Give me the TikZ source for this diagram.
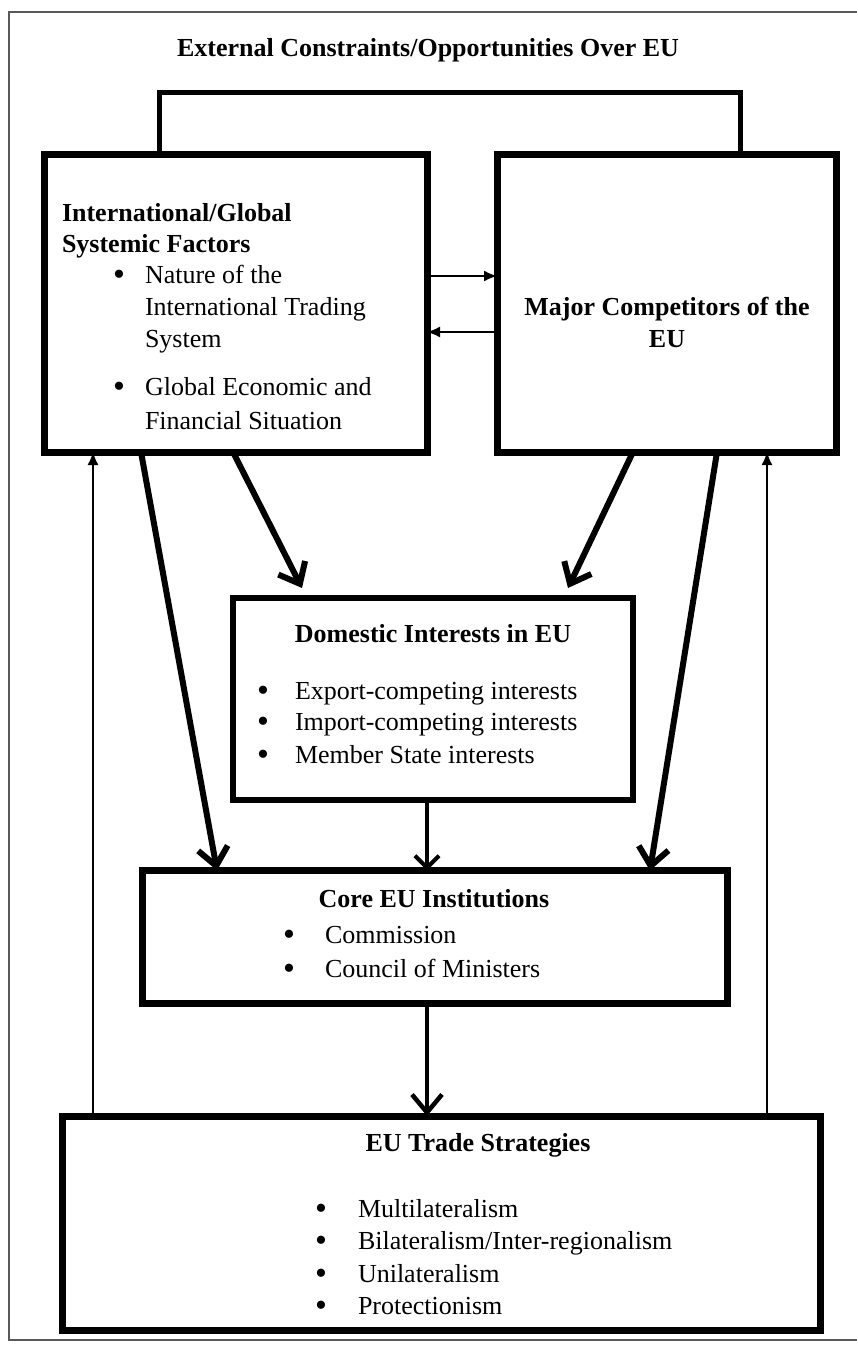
\documentclass[tikz,border=0pt]{standalone}
\usepackage{fontspec}
\setmainfont{Liberation Serif}
\usetikzlibrary{arrows.meta}
\begin{document}
\begin{tikzpicture}[x=1pt,y=-1pt,
  box/.style={draw, line width=7pt, outer sep=0pt, inner sep=0pt},
  txt/.style={inner sep=0pt, outer sep=0pt, font=\fontsize{26}{32}\selectfont},
  bul/.style={inner sep=0pt, outer sep=0pt, font=\fontsize{34}{32}\selectfont},
  bigarrow/.style={line width=6pt, -{Straight Barb[length=18pt,width=30pt]}},
  midarrow/.style={line width=4pt, -{Straight Barb[length=12pt,width=24pt]}},
  thinarrow/.style={line width=1.6pt, -{Latex[length=13pt,width=11pt]}},
  bracketline/.style={line width=5pt}
]
\useasboundingbox (0,0) rectangle (857,1349);
\fill[white] (0,0) rectangle (857,1349);
% outer frame
\draw[gray!70!black, line width=1.8pt] (857,12) -- (9,12) -- (9,1340) -- (857,1340);

% title
\node[txt, anchor=base] (title) at (428,56) {\bfseries External Constraints/Opportunities Over EU};

% boxes
\node[box, minimum width=383pt, minimum height=298pt] (L) at (235.5,303) {};
\node[box, minimum width=339pt, minimum height=298pt] (R) at (666.5,303) {};
\node[box, line width=5.5pt, minimum width=400pt, minimum height=202pt] (D) at (433,699) {};
\node[box, minimum width=585pt, minimum height=133pt] (C) at (434.5,937) {};
\node[box, minimum width=758pt, minimum height=214pt] (B) at (441,1223) {};

% left box text
\node[txt, anchor=base west] (l1) at (62,221) {\bfseries International/Global};
\node[txt, anchor=base west] (l2) at (62,252) {\bfseries Systemic Factors};
\node[bul, anchor=base] (lb1) at (119,285) {\textbullet};
\node[txt, anchor=base west] (l3) at (145,283) {Nature of the};
\node[txt, anchor=base west] (l4) at (145,315) {International Trading};
\node[txt, anchor=base west] (l5) at (145,347) {System};
\node[bul, anchor=base] (lb2) at (119,397) {\textbullet};
\node[txt, anchor=base west] (l6) at (145,395) {Global Economic and};
\node[txt, anchor=base west] (l7) at (145,429) {Financial Situation};

% right box text
\node[txt, anchor=base] (r1) at (667,315) {\bfseries Major Competitors of the};
\node[txt, anchor=base] (r2) at (667,347) {\bfseries EU};

% domestic text
\node[txt, anchor=base] (d0) at (433,642) {\bfseries Domestic Interests in EU};
\node[bul, anchor=base] (db1) at (263,701) {\textbullet};
\node[txt, anchor=base west] (d1) at (295,699) {Export-competing interests};
\node[bul, anchor=base] (db2) at (263,732) {\textbullet};
\node[txt, anchor=base west] (d2) at (295,730) {Import-competing interests};
\node[bul, anchor=base] (db3) at (263,765) {\textbullet};
\node[txt, anchor=base west] (d3) at (295,763) {Member State interests};

% core text
\node[txt, anchor=base] (c0) at (434,907) {\bfseries Core EU Institutions};
\node[bul, anchor=base] (cb1) at (289,945) {\textbullet};
\node[txt, anchor=base west] (c1) at (325,943) {Commission};
\node[bul, anchor=base] (cb2) at (289,979) {\textbullet};
\node[txt, anchor=base west] (c2) at (325,977) {Council of Ministers};

% bottom text
\node[txt, anchor=base] (b0) at (478,1151) {\bfseries EU Trade Strategies};
\node[bul, anchor=base] (bb1) at (321,1219) {\textbullet};
\node[txt, anchor=base west] (b1) at (358,1217) {Multilateralism};
\node[bul, anchor=base] (bb2) at (321,1251) {\textbullet};
\node[txt, anchor=base west] (b2) at (358,1249) {Bilateralism/Inter-regionalism};
\node[bul, anchor=base] (bb3) at (321,1284) {\textbullet};
\node[txt, anchor=base west] (b3) at (358,1282) {Unilateralism};
\node[bul, anchor=base] (bb4) at (321,1316) {\textbullet};
\node[txt, anchor=base west] (b4) at (358,1314) {Protectionism};

% bracket
\draw[bracketline] ([xshift=115pt]L.north west) -- ++(0,-62) -| ([xshift=243pt]R.north west);

% horizontal arrows
\draw[thinarrow] ([yshift=-122pt]L.north east) -- ([yshift=-122pt]R.north west);
\draw[thinarrow] ([yshift=-178pt]R.north west) -- ([yshift=-178pt]L.north east);

% thick arrows
\draw[bigarrow] ([xshift=189pt]L.south west) -- ([xshift=69pt,yshift=10pt]D.north west);
\draw[bigarrow] ([xshift=136pt]R.south west) -- ([xshift=335pt,yshift=10pt]D.north west);
\draw[bigarrow] ([xshift=97pt]L.south west) -- ([xshift=75pt]C.north west);
\draw[bigarrow] ([xshift=220pt]R.south west) -- ([xshift=508pt]C.north west);
\draw[midarrow] ([xshift=194pt]D.south west) -- ([xshift=285pt]C.north west);
\draw[bigarrow, line width=4.5pt] ([xshift=285pt]C.south west) -- ([xshift=365pt]B.north west);

% thin up arrows
\draw[thinarrow] ([xshift=31pt]B.north west) -- ([xshift=49pt]L.south west);
\draw[thinarrow] ([xshift=705pt]B.north west) -- ([xshift=270pt]R.south west);
\end{tikzpicture}
\end{document}
